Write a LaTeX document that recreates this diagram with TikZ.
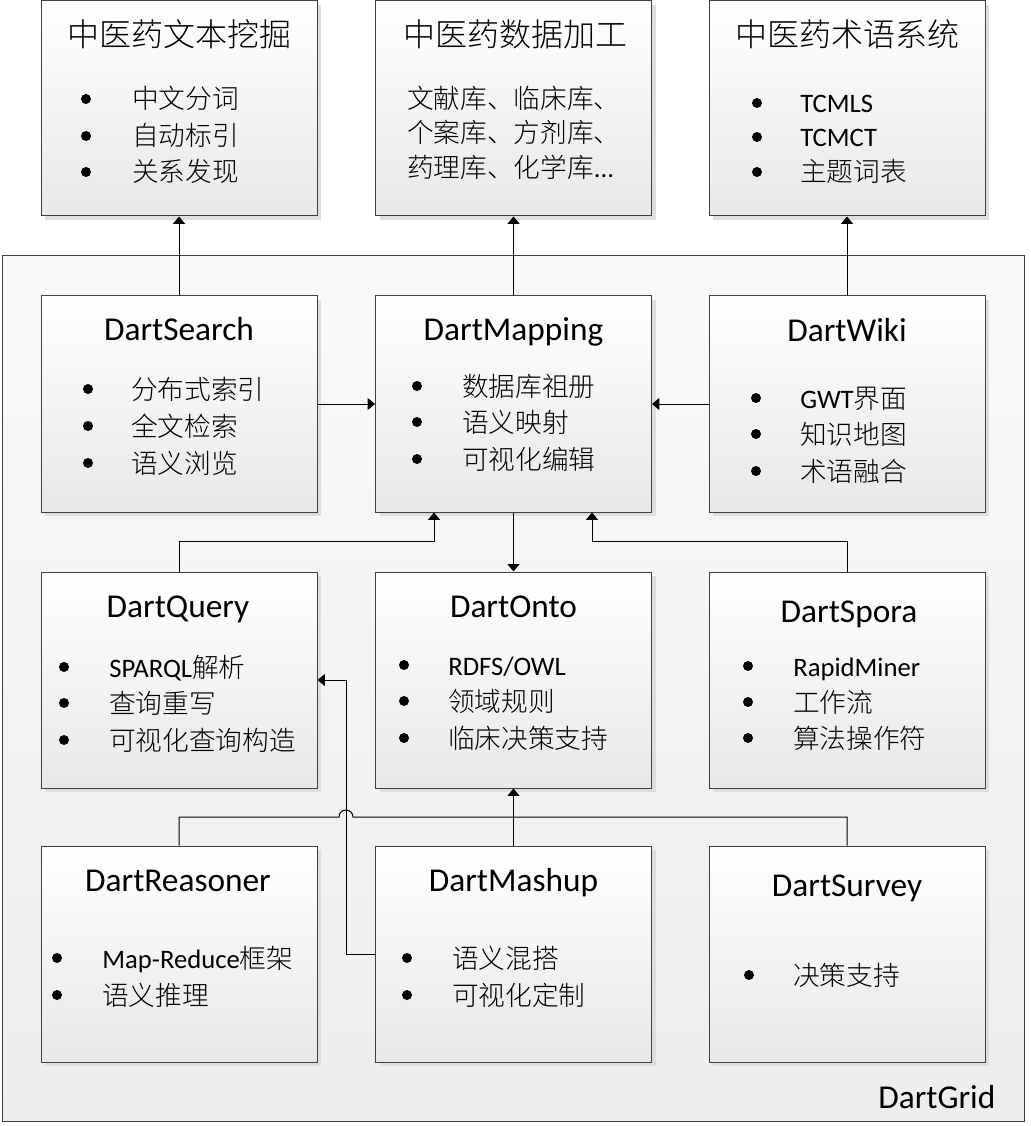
\documentclass[tikz,border=0pt]{standalone}
\usepackage{fontspec}
\setmainfont{Carlito}
\newfontfamily\cjk{Noto Sans CJK SC Light}
\usetikzlibrary{arrows.meta,shadows}
\tikzset{
  box/.style={draw=black!75, line width=0.75pt, top color=white, bottom color=black!9,
    minimum width=207pt, minimum height=162pt, inner sep=0pt,
    drop shadow={shadow xshift=3pt, shadow yshift=-3pt, fill=black!13, opacity=1}},
  topbox/.style={box, minimum height=161.25pt},
  outerbox/.style={draw=black!75, line width=0.75pt, top color=black!2, bottom color=black!7,
    minimum width=766.5pt, minimum height=648.75pt, inner sep=0pt},
  ttl/.style={anchor=base, inner sep=0pt, font=\fontsize{24}{28}\selectfont},
  lttl/.style={ttl, font=\fontsize{25}{29}\selectfont},
  itemtext/.style={anchor=base west, inner sep=0pt, font=\fontsize{20}{24}\selectfont},
  arr/.style={-{Triangle[length=5.5pt,width=9pt]}, line width=0.75pt},
  ln/.style={line width=0.75pt}
}
% \itm{name}{text x}{bullet x}{y}{text}
\newcommand\itm[5]{\fill (#3,#4) circle[radius=5]; \node[itemtext] (#1) at (#2,#4+10) {#5};}
\newcommand\lin[4]{\node[itemtext] (#1) at (#2,#3+10) {#4};}
\begin{document}
\begin{tikzpicture}[x=0.75pt,y=-0.75pt]
\useasboundingbox (0,0) rectangle (1030,1126);
% outer container
\node[outerbox] (grid) at (513,688.5) {};
\node[lttl, anchor=base west] (gridlbl) at (878,1108) {DartGrid};
% top boxes
\node[topbox] (mining) at (179,108.5) {};
\node[topbox] (data) at (513.5,108.5) {};
\node[topbox] (term) at (847,108.5) {};
% row 1
\node[box] (search) at (179,404) {};
\node[box] (mapping) at (513.5,404) {};
\node[box] (wiki) at (847,404) {};
% row 2
\node[box] (query) at (179,680) {};
\node[box] (onto) at (513.5,680) {};
\node[box] (spora) at (847,680) {};
% row 3
\node[box] (reasoner) at (179,954) {};
\node[box] (mashup) at (513.5,954) {};
\node[box] (survey) at (847,954) {};

% texts: top boxes
\node[ttl] (t1) at (179,47) {\cjk 中医药文本挖掘};
\itm{m1}{132}{86}{99}{\cjk 中文分词}
\itm{m2}{132}{86}{136}{\cjk 自动标引}
\itm{m3}{132}{86}{172}{\cjk 关系发现}
\node[ttl] (t2) at (515,47) {\cjk 中医药数据加工};
\lin{d1}{407}{99}{\cjk 文献库、临床库、}
\lin{d2}{407}{133}{\cjk 个案库、方剂库、}
\lin{d3}{407}{168}{{\cjk 药理库、化学库}...}
\node[ttl] (t3) at (847,47) {\cjk 中医药术语系统};
\itm{s1}{800}{757}{103}{TCMLS}
\itm{s2}{800}{757}{137}{TCMCT}
\itm{s3}{800}{757}{172}{\cjk 主题词表}

% row 1
\node[lttl] (t4) at (179,341) {DartSearch};
\itm{a1}{131}{88}{389}{\cjk 分布式索引}
\itm{a2}{131}{88}{426}{\cjk 全文检索}
\itm{a3}{131}{88}{463}{\cjk 语义浏览}
\node[lttl] (t5) at (513.5,341) {DartMapping};
\itm{b1}{462}{417}{386}{\cjk 数据库祖册}
\itm{b2}{462}{417}{422}{\cjk 语义映射}
\itm{b3}{462}{417}{459}{\cjk 可视化编辑}
\node[lttl] (t6) at (847,342) {DartWiki};
\itm{c1}{800}{756}{398}{GWT{\cjk 界面}}
\itm{c2}{800}{756}{434}{\cjk 知识地图}
\itm{c3}{800}{756}{471}{\cjk 术语融合}

% row 2
\node[lttl] (t7) at (178,617) {DartQuery};
\itm{e1}{109}{64}{667}{SPARQL{\cjk 解析}}
\itm{e2}{109}{64}{703}{\cjk 查询重写}
\itm{e3}{109}{64}{740}{\cjk 可视化查询构造}
\node[lttl] (t8) at (513.5,617) {DartOnto};
\itm{f1}{448}{404}{665}{RDFS/OWL}
\itm{f2}{448}{404}{701}{\cjk 领域规则}
\itm{f3}{448}{404}{738}{\cjk 临床决策支持}
\node[lttl] (t9) at (849,622) {DartSpora};
\itm{g1}{793}{748}{666}{RapidMiner}
\itm{g2}{793}{748}{702}{\cjk 工作流}
\itm{g3}{793}{748}{738}{\cjk 算法操作符}

% row 3
\node[lttl] (t10) at (178,891) {DartReasoner};
\itm{h1}{102}{57}{958}{Map-Reduce{\cjk 框架}}
\itm{h2}{102}{57}{995}{\cjk 语义推理}
\node[lttl] (t11) at (513.5,891) {DartMashup};
\itm{i1}{452}{407}{958}{\cjk 语义混搭}
\itm{i2}{452}{407}{995}{\cjk 可视化定制}
\node[lttl] (t12) at (847,896) {DartSurvey};
\itm{j1}{793}{749}{975}{\cjk 决策支持}

% connectors
\draw[arr] (search.north) -- (mining.south);
\draw[arr] (mapping.north) -- (data.south);
\draw[arr] (wiki.north) -- (term.south);
\draw[arr] (search.east) -- (mapping.west);
\draw[arr] (wiki.west) -- (mapping.east);
\draw[arr] (mapping.south) -- (onto.north);
\coordinate (qa) at (179,541);
\coordinate (qb) at (434,541);
\draw[arr] (query.north) -- (qa) -- (qb) -- (qb |- mapping.south);
\coordinate (sa) at (847,541);
\coordinate (sb) at (592,541);
\draw[arr] (spora.north) -- (sa) -- (sb) -- (sb |- mapping.south);
\draw[arr] (mashup.north) -- (onto.south);
\coordinate (ra) at (179,817);
\coordinate (rj) at (339,817);
\coordinate (rb) at (847,817);
\draw[ln] (reasoner.north) -- (ra) -- (rj) arc[start angle=180, end angle=0, radius=5.25pt] -- (rb) -- (survey.north);
\coordinate (ma) at (346,954);
\coordinate (mb) at (346,680);
\draw[arr] (mashup.west) -- (ma) -- (mb) -- (query.east);
\end{tikzpicture}
\end{document}
